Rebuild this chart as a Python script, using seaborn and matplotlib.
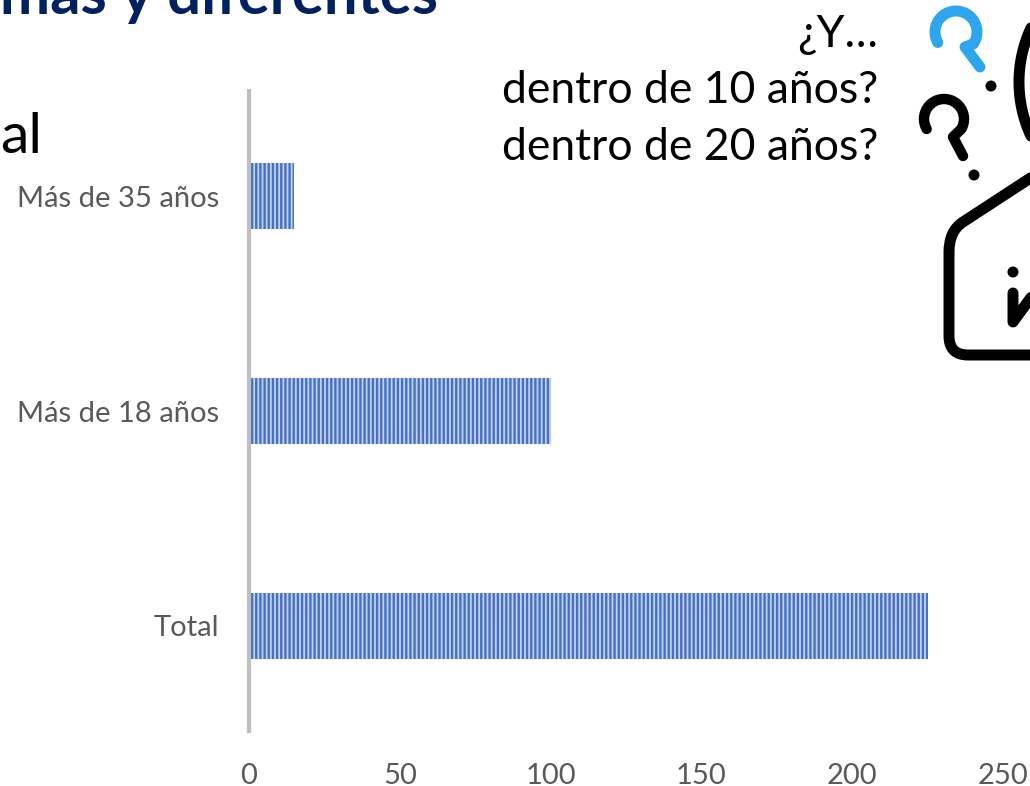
import numpy as np
import matplotlib
matplotlib.use('Agg')
import matplotlib.pyplot as plt
from matplotlib.path import Path
from matplotlib.patches import PathPatch, Circle
import seaborn as sns

categories = ['Más de 35 años', 'Más de 18 años', 'Total']
values = [15, 100, 225]
x_ticks = [0, 50, 100, 150, 200, 250]

title_text = 'mas y diferentes'
side_text = 'al'
note_lines = ['¿Y…', 'dentro de 10 años?', 'dentro de 20 años?']

sns.set_theme(style='white')
plt.rcParams['font.family'] = ['Lato', 'DejaVu Sans']
plt.rcParams['hatch.linewidth'] = 1.7

fig = plt.figure(figsize=(10.3, 7.86), dpi=100)
ax = fig.add_axes([249 / 1030, 53 / 786, 754 / 1030, 644 / 786])

sns.barplot(x=values, y=categories, orient='h', width=0.307, color='#c3d1ec', saturation=1, ax=ax)
for bar in ax.patches:
    bar.set_hatch('||||')
    bar.set_edgecolor('#4472c4')
    bar.set_linewidth(0)

ax.set_xlim(0, 250)
ax.set_xticks(x_ticks)
ax.tick_params(axis='both', length=0, labelsize=21, labelcolor='#595959')
ax.tick_params(axis='x', pad=21.8)
ax.tick_params(axis='y', pad=21.5)
sns.despine(ax=ax, top=True, right=True, bottom=True)
ax.spines['left'].set_color('#bfbfbf')
ax.spines['left'].set_linewidth(3)
ax.spines['left'].set_capstyle('butt')

# overlay in pixel coordinates for the slide text and the icon
over = fig.add_axes([0, 0, 1, 1], facecolor='none')
over.set_xlim(0, 1030)
over.set_ylim(786, 0)
over.axis('off')

over.text(0, 14, title_text, fontsize=43, fontweight='bold', color='#002060', va='baseline', ha='left')
over.text(0, 153, side_text, fontsize=41, color='black', va='baseline', ha='left')
for line, y in zip(note_lines, [47, 103, 160]):
    over.text(878, y, line, fontsize=32, color='black', va='baseline', ha='right')


def stroke(verts, codes, color='black', lw=7.9):
    over.add_patch(PathPatch(Path(verts, codes), fill=False, edgecolor=color, lw=lw,
                             capstyle='round', joinstyle='round'))


def question(cx, cy, r, a0, a1, stem, color, lw):
    t = np.radians(np.linspace(a0, a1, 40))
    pts = np.column_stack([cx + r * np.cos(t), cy + r * np.sin(t)])
    pts = np.vstack([pts, stem])
    over.plot(pts[:, 0], pts[:, 1], color=color, lw=lw, solid_capstyle='round', solid_joinstyle='round')


question(956, 32, 21, 150, 395, [(965, 47), (980, 67)], '#2ea6ee', 7.9)
over.add_patch(Circle((991, 86), 5.5, color='black', lw=0))
question(944, 119, 20, 150, 390, [(953, 137), (963, 156)], 'black', 7.5)
over.add_patch(Circle((974, 175), 5.5, color='black', lw=0))

# big circle, only its left edge is on the slide
t = np.radians(np.linspace(155, 205, 40))
over.plot(1147 + 128 * np.cos(t), 82 + 128 * np.sin(t), color='black', lw=7.9)

# house outline
M, L, C = Path.MOVETO, Path.LINETO, Path.CURVE3
stroke([(1035, 175), (963, 222), (949, 231), (949, 252), (949, 336), (949, 355), (968, 355), (1035, 355)],
       [M, L, C, C, L, C, C, L])
over.add_patch(Circle((1013, 272), 5.5, color='black', lw=0))
stroke([(1013, 293), (1013, 322), (1035, 292)], [M, L, L])

fig.savefig('out.png', dpi=100)
